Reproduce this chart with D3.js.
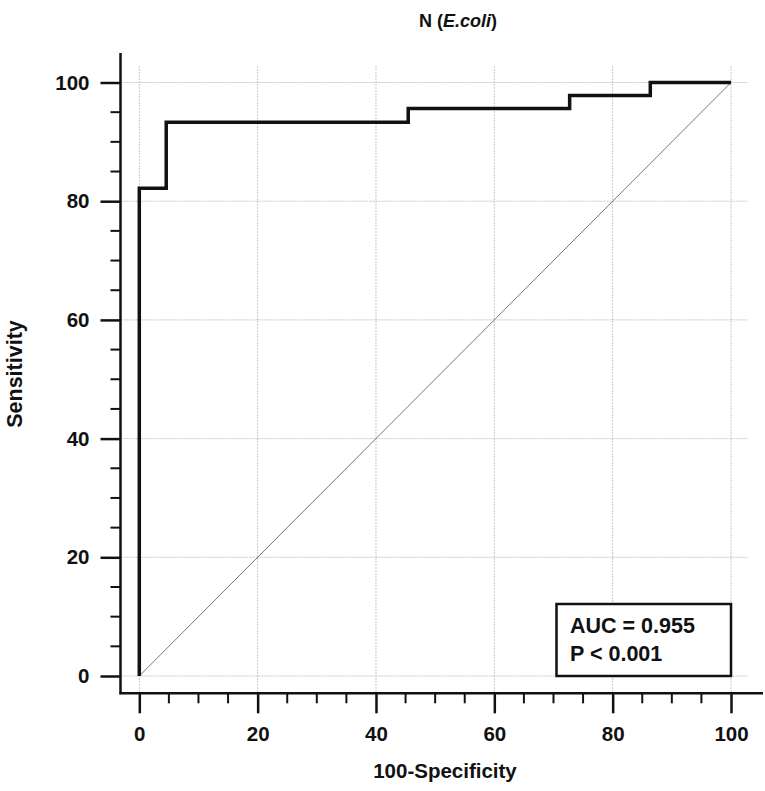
<!DOCTYPE html>
<html>
<head>
<meta charset="utf-8">
<style>
  body{ margin:0; background:#fff; font-family:"Liberation Sans", Arial, sans-serif; }
  svg text{ font-family:"Liberation Sans", Arial, sans-serif; font-weight:bold; fill:#111; }
</style>
</head>
<body>
<div id="chart"></div>
<script src="https://d3js.org/d3.v7.min.js"></script>
<script>
// ROC curve points: 100-Specificity vs Sensitivity
var fpr = [0, 0, 4.55, 4.55, 45.45, 45.45, 72.73, 72.73, 86.36, 86.36, 100];
var sens = [0, 82.2, 82.2, 93.3, 93.3, 95.6, 95.6, 97.8, 97.8, 100, 100];
var majorTicks = [0, 20, 40, 60, 80, 100];
var minorTicks = d3.range(0, 101, 5).filter(d => d % 20 != 0);
var statLines = ["AUC = 0.955", "P < 0.001"];

var W = 765, H = 791;
var svg = d3.select("#chart").append("svg")
    .attr("width", W).attr("height", H);

var x = d3.scaleLinear().domain([0, 100]).range([139.3, 731]);
var y = d3.scaleLinear().domain([0, 100]).range([676, 82.5]);

var axisX = 120.5, axisY = 693.3;

// grid
svg.append("g").selectAll("line").data(majorTicks).join("line")
    .attr("x1", d => x(d)).attr("x2", d => x(d))
    .attr("y1", 66).attr("y2", axisY)
    .attr("stroke", "#c8c8c8").attr("stroke-width", 1).attr("stroke-dasharray", "2,1");
svg.append("g").selectAll("line").data(majorTicks).join("line")
    .attr("x1", axisX).attr("x2", 748)
    .attr("y1", d => y(d)).attr("y2", d => y(d))
    .attr("stroke", "#c8c8c8").attr("stroke-width", 1).attr("stroke-dasharray", "2,1");

// axes
var gx = svg.append("g").attr("transform", "translate(0," + axisY + ")");
gx.call(d3.axisBottom(x).tickValues(majorTicks).tickSize(20).tickPadding(13))
  .call(g => g.select(".domain").remove());
gx.append("g").selectAll("line").data(minorTicks).join("line")
    .attr("x1", d => x(d)).attr("x2", d => x(d)).attr("y1", 0).attr("y2", 10)
    .attr("stroke", "#111").attr("stroke-width", 2);
gx.append("line").attr("x1", axisX - 1).attr("x2", 763).attr("y1", 0).attr("y2", 0)
    .attr("stroke", "#111").attr("stroke-width", 2.5);

var gy = svg.append("g").attr("transform", "translate(" + axisX + ",0)");
gy.call(d3.axisLeft(y).tickValues(majorTicks).tickSize(20).tickPadding(11))
  .call(g => g.select(".domain").remove());
gy.append("g").selectAll("line").data(minorTicks).join("line")
    .attr("x1", -10).attr("x2", 0).attr("y1", d => y(d)).attr("y2", d => y(d))
    .attr("stroke", "#111").attr("stroke-width", 2);
gy.append("line").attr("x1", 0).attr("x2", 0).attr("y1", 53).attr("y2", axisY + 1)
    .attr("stroke", "#111").attr("stroke-width", 2.5);

svg.selectAll(".tick line").attr("stroke", "#111").attr("stroke-width", 2.5);
svg.selectAll(".tick text").style("font-size", "20.5px").style("font-weight", "bold")
    .attr("fill", "#111");

// diagonal reference
svg.append("line")
    .attr("x1", x(0)).attr("y1", y(0)).attr("x2", x(100)).attr("y2", y(100))
    .attr("stroke", "#777").attr("stroke-width", 1);

// ROC curve
svg.append("path")
    .datum(d3.zip(fpr, sens))
    .attr("fill", "none").attr("stroke", "#111").attr("stroke-width", 3.5)
    .attr("stroke-linejoin", "miter")
    .attr("d", d3.line().x(d => x(d[0])).y(d => y(d[1])));

// stats box
svg.append("rect")
    .attr("x", 556.5).attr("y", 604).attr("width", x(100) - 556.5).attr("height", y(0) - 604)
    .attr("fill", "#fff").attr("stroke", "#111").attr("stroke-width", 2.5);
svg.append("g").selectAll("text").data(statLines).join("text")
    .attr("x", 570).attr("y", (d, i) => 633 + i * 28)
    .style("font-size", "21.5px").text(d => d);

// titles
var title = svg.append("text").attr("x", 458).attr("y", 27).attr("text-anchor", "middle")
    .style("font-size", "18px");
title.append("tspan").text("N (");
title.append("tspan").style("font-style", "italic").text("E.coli");
title.append("tspan").text(")");

svg.append("text").attr("x", 445).attr("y", 778).attr("text-anchor", "middle")
    .style("font-size", "20.5px").text("100-Specificity");

svg.append("text").attr("transform", "translate(22,374) rotate(-90)")
    .attr("text-anchor", "middle").style("font-size", "21.5px").text("Sensitivity");
</script>
</body>
</html>
